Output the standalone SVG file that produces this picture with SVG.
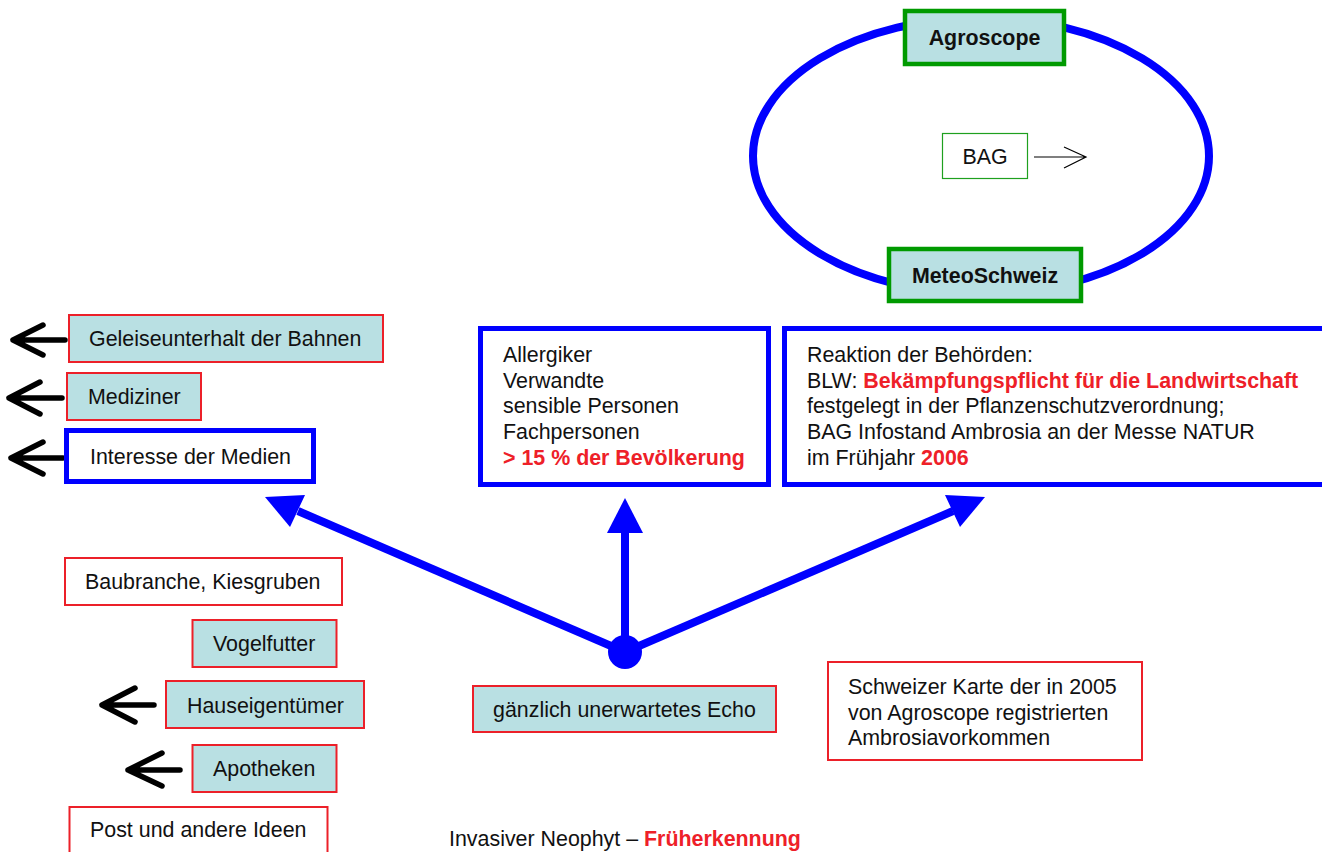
<svg xmlns="http://www.w3.org/2000/svg" width="1322" height="852" viewBox="0 0 1322 852">
<style>
text{font-family:"Liberation Sans",Arial,sans-serif;font-size:21.4px;fill:#111}
.b{font-weight:bold}
.r{fill:#EE2028}
.teal{fill:#B9E0E3;stroke:#EC2029;stroke-width:2}
.wred{fill:#fff;stroke:#EC2029;stroke-width:2}
.blue{fill:#fff;stroke:#0000FF;stroke-width:5}
.gbox{fill:#B9E0E3;stroke:#009A00;stroke-width:4.5}
.blk{fill:none;stroke:#000;stroke-width:5.5;stroke-linecap:round;stroke-linejoin:round}
.bl{stroke:#0000FF;stroke-width:8;fill:none}
.bh{fill:#0000FF}
</style>
<rect width="1322" height="852" fill="#fff"/>
<g id="connectors">
<ellipse cx="981" cy="156" rx="228" ry="138" fill="none" stroke="#0000FF" stroke-width="8"/>
<line class="bl" x1="625" y1="652" x2="298" y2="511"/>
<polygon class="bh" points="265,497 305,495 290,527"/>
<line class="bl" x1="625" y1="652" x2="625" y2="532"/>
<polygon class="bh" points="625,498 643,533 607,533"/>
<line class="bl" x1="625" y1="652" x2="953" y2="511"/>
<polygon class="bh" points="985,497 945,495 960,527"/>
<circle cx="625" cy="652" r="17" fill="#0000FF"/>
<g class="blk">
<path d="M65,340 H13 M43,325 L13,340 L43,355"/>
<path d="M62,398 H9 M40,382 L9,398 L40,414"/>
<path d="M63,458 H11 M43,442 L11,458 L43,474"/>
<path d="M154,705 H102 M135,688 L102,705 L135,722"/>
<path d="M180,770 H128 M162,753 L128,770 L162,786"/>
</g>
<path d="M1034,157 H1086 M1064,147 L1086,157 L1064,168" fill="none" stroke="#000" stroke-width="1.2"/>
</g>
<g id="agroscope"><rect class="gbox" x="905" y="11" width="159" height="53"/><text class="b" x="984.5" y="45" text-anchor="middle">Agroscope</text></g>
<g id="meteo"><rect class="gbox" x="889" y="249" width="192" height="52"/><text class="b" x="985" y="283" text-anchor="middle">MeteoSchweiz</text></g>
<g id="bag"><rect x="942.5" y="133.5" width="85" height="45" fill="#fff" stroke="#1FA01F" stroke-width="1.2"/><text x="985" y="164" text-anchor="middle">BAG</text></g>
<g id="geleise"><rect class="teal" x="69" y="315" width="314" height="47"/><text x="89" y="346">Geleiseunterhalt der Bahnen</text></g>
<g id="mediziner"><rect class="teal" x="67" y="373" width="134" height="47"/><text x="88" y="404">Mediziner</text></g>
<g id="medien"><rect class="blue" x="66.5" y="430.5" width="247" height="51"/><text x="90" y="464">Interesse der Medien</text></g>
<g id="allergiker"><rect class="blue" x="480.5" y="328.5" width="288" height="156"/>
<text x="503" y="362">Allergiker</text>
<text x="503" y="388">Verwandte</text>
<text x="503" y="413">sensible Personen</text>
<text x="503" y="439">Fachpersonen</text>
<text class="b r" x="503" y="465">&gt; 15 % der Bevölkerung</text></g>
<g id="reaktion"><rect class="blue" x="784.5" y="328.5" width="545" height="156"/>
<text x="807" y="362">Reaktion der Behörden:</text>
<text x="807" y="388">BLW: <tspan class="b r">Bekämpfungspflicht für die Landwirtschaft</tspan></text>
<text x="807" y="413">festgelegt in der Pflanzenschutzverordnung;</text>
<text x="807" y="439">BAG Infostand Ambrosia an der Messe NATUR</text>
<text x="807" y="465">im Frühjahr <tspan class="b r">2006</tspan></text></g>
<g id="baubranche"><rect class="wred" x="65" y="558" width="277" height="47"/><text x="85" y="589">Baubranche, Kiesgruben</text></g>
<g id="vogelfutter"><rect class="teal" x="192.5" y="620" width="144" height="47"/><text x="213" y="651">Vogelfutter</text></g>
<g id="hauseigentuemer"><rect class="teal" x="166" y="681" width="198" height="47"/><text x="187" y="713">Hauseigentümer</text></g>
<g id="apotheken"><rect class="teal" x="192.5" y="745" width="144" height="47"/><text x="213" y="776">Apotheken</text></g>
<g id="post"><rect class="wred" x="69.5" y="807" width="258" height="52"/><text x="90" y="837">Post und andere Ideen</text></g>
<g id="echo"><rect class="teal" x="473" y="686" width="303" height="46"/><text x="493" y="717">gänzlich unerwartetes Echo</text></g>
<g id="karte"><rect class="wred" x="828" y="662" width="314" height="98"/>
<text x="848" y="694">Schweizer Karte der in 2005</text>
<text x="848" y="720">von Agroscope registrierten</text>
<text x="848" y="745">Ambrosiavorkommen</text></g>
<g id="titel"><text x="449" y="846">Invasiver Neophyt – <tspan class="b r">Früherkennung</tspan></text></g>
</svg>
